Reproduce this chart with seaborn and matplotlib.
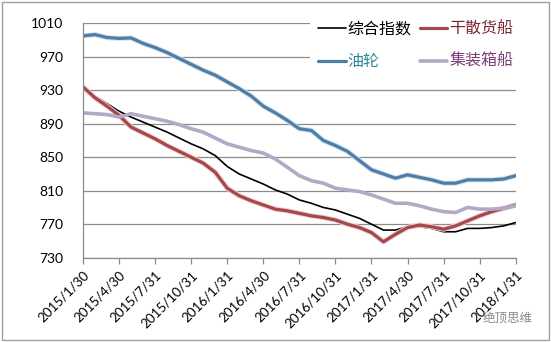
import matplotlib
matplotlib.use("Agg")
import matplotlib.pyplot as plt
import matplotlib.patheffects as pe
import seaborn as sns
import pandas as pd

# ---- data -------------------------------------------------------------
tick_labels = ["2015/1/30", "2015/4/30", "2015/7/31", "2015/10/31", "2016/1/31",
               "2016/4/30", "2016/7/31", "2016/10/31", "2017/1/31", "2017/4/30",
               "2017/7/31", "2017/10/31", "2018/1/31"]
months = list(range(37))  # monthly points 2015/1 .. 2018/1

composite = [932, 923, 914, 905, 898, 892, 886, 880, 873, 866, 860, 852, 839,
             830, 824, 818, 811, 806, 799, 795, 790, 787, 782, 777, 770, 763,
             763, 767, 767, 765, 761, 761, 765, 765, 766, 768, 772]
dry_bulk = [934, 921, 911, 900, 886, 879, 872, 864, 857, 850, 843, 832, 813,
            804, 798, 793, 788, 786, 783, 780, 778, 775, 770, 766, 760, 749,
            758, 766, 769, 767, 764, 768, 774, 780, 785, 789, 793]
tanker = [995, 996.5, 993, 992, 992.5, 986, 981, 975, 968, 961, 954, 948, 940,
          932, 923, 911, 903, 894, 884, 882, 870, 864, 857, 846, 835, 830,
          825, 829, 826, 823, 819, 819, 823, 823, 823, 824, 828]
container = [903, 902, 901, 898, 902, 899, 896, 893, 889, 884, 880, 873, 866,
             862, 858, 855, 848, 838, 828, 822, 819, 813, 811, 809, 805, 800,
             795, 795, 792, 788, 785, 784, 790, 788, 788, 789, 792]

series_names = ["综合指数", "干散货船", "油轮", "集装箱船"]
series_values = [composite, dry_bulk, tanker, container]

# ---- style ------------------------------------------------------------
sns.set_theme(style="white")
plt.rcParams["font.family"] = ["Lato", "Noto Sans CJK SC", "DejaVu Sans"]

colors = ["#000000", "#A5484B", "#4E7DA6", "#B3A8C6"]
glows = [None, "#F2CDCD", "#CFE2F0", None]
widths = [1.2, 2.3, 2.3, 2.6]
text_colors = ["#000000", "#7A2630", "#2F8A96", "#7A3E78"]

fig = plt.figure(figsize=(5.51, 3.42), dpi=100)
ax = fig.add_axes([83 / 551, 1 - 257.7 / 342, (515.7 - 83) / 551, (257.7 - 23.3) / 342])

for name, vals, c, g, w in zip(series_names, series_values, colors, glows, widths):
    df = pd.DataFrame({"month": months, "value": vals})
    sns.lineplot(data=df, x="month", y="value", ax=ax, color=c, linewidth=w,
                 label=name, legend=False)
    line = ax.lines[-1]
    if g is not None:
        line.set_path_effects([pe.Stroke(linewidth=w + 1.4, foreground=g),
                               pe.Normal()])
    line.set_solid_joinstyle("round")

ax.set_xlim(0, 36)
ax.set_ylim(730, 1010)
ax.set_yticks(range(730, 1011, 40))
ax.set_xticks(range(0, 37, 3))
ax.set_xticklabels(tick_labels, rotation=45, ha="right", rotation_mode="anchor")
ax.set_xlabel("")
ax.set_ylabel("")

ax.grid(axis="y", color="#8C8C8C", linewidth=0.9)
ax.set_axisbelow(True)
for s in ["top", "right"]:
    ax.spines[s].set_visible(False)
for s in ["left", "bottom"]:
    ax.spines[s].set_color("#8C8C8C")
    ax.spines[s].set_linewidth(0.9)

ax.tick_params(axis="y", length=0, pad=14, labelsize=10, colors="#000000")
ax.tick_params(axis="x", length=4, width=0.9, color="#8C8C8C", direction="out",
               pad=4, labelsize=9.6, labelcolor="#000000")
ax.xaxis.set_ticks_position("bottom")

# legend: row-wise order (ncol=2 fills column by column)
order = [0, 2, 1, 3]
handles = [ax.lines[i] for i in order]
labels = [series_names[i] for i in order]
leg = ax.legend(handles, labels, ncol=2, loc="upper left",
                bbox_to_anchor=(302 / 551, 1 - 5 / 342), bbox_transform=fig.transFigure,
                frameon=True, framealpha=1,
                facecolor="white", edgecolor="none",
                handlelength=1.75, handletextpad=0.1, columnspacing=0.5,
                labelspacing=0.95, borderpad=0.5,
                prop={"family": ["Noto Sans CJK SC"], "size": 11.5})
for t, i in zip(leg.get_texts(), order):
    t.set_color(text_colors[i])
for lh in leg.get_lines():
    lh.set_path_effects([])
leg.set_zorder(5)

# watermark
fig.text(0.875, 0.07, "绝顶思维", fontsize=9, color="#8A8A8A",
         family=["Noto Sans CJK SC"], ha="left", va="center")

# outer frame
fig.patches.append(plt.Rectangle((0.004, 0.006), 0.992, 0.988, transform=fig.transFigure,
                                 fill=False, edgecolor="#A0A0A0", linewidth=1.0))

fig.savefig("out.png", dpi=100)
